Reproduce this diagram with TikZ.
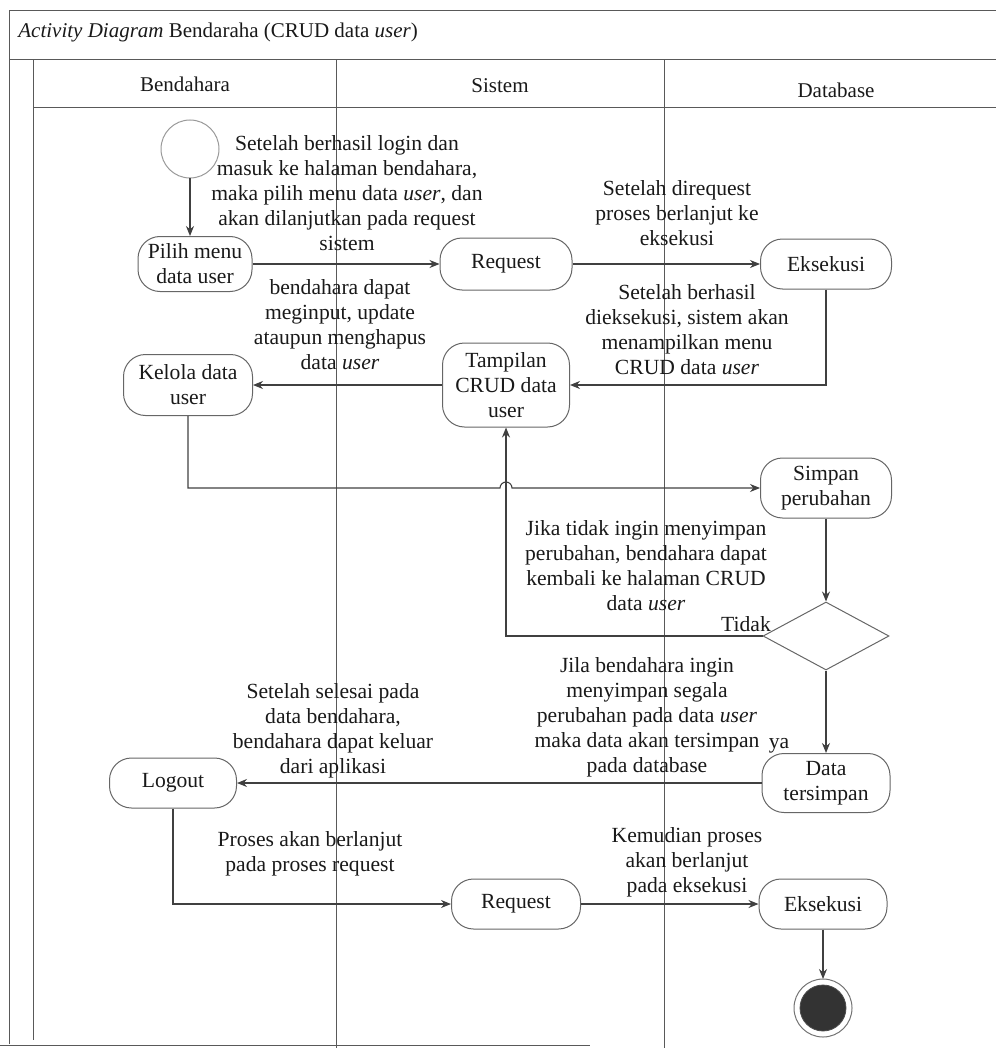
\documentclass[tikz,border=0pt]{standalone}
\usepackage{fontspec}
\setmainfont{Liberation Serif}
\usetikzlibrary{arrows.meta,shapes.geometric,calc}

\begin{document}
\begin{tikzpicture}[x=0.5pt,y=-0.5pt,
  frame/.style={draw=black!65, line width=0.5pt},
  act/.style={draw=black!60, line width=0.5pt, rounded corners=11pt, align=center,
    inner sep=0pt, text=black!90, font=\fontsize{10.8pt}{12.5pt}\selectfont},
  note/.style={align=center, inner sep=0pt, text=black!90,
    font=\fontsize{10.8pt}{12.5pt}\selectfont},
  hdr/.style={inner sep=0pt, text=black!90, font=\fontsize{10.5pt}{12pt}\selectfont},
  flow/.style={draw=black!75, line width=0.55pt, -{Stealth[length=5pt,width=4pt]}},
]
\useasboundingbox (0,0) rectangle (996,1048);

% outer frame, title row and swimlanes
\draw[frame] (9,1044) -- (9,11) -- (996,11);
\draw[frame] (9,60) -- (996,60);
\draw[frame] (33,108) -- (996,108);
\draw[frame] (33,60) -- (33,1040);
\draw[frame] (336,60) -- (336,1048);
\draw[frame] (664,60) -- (664,1048);
\draw[frame] (0,1045) -- (590,1045);

\node[hdr, anchor=west] (title) at (18,32) {\textit{Activity Diagram} Bendaraha (CRUD data \textit{user})};
\node[hdr] (laneA) at (185,84) {Bendahara};
\node[hdr] (laneB) at (500,86) {Sistem};
\node[hdr] (laneC) at (836,90) {Database};

% activities
\node[circle, draw=black!40, line width=0.5pt, minimum size=29pt, inner sep=0pt] (start) at (190,149) {};
\node[act, minimum width=57pt, minimum height=27.5pt] (pilih) at (195,264) {Pilih menu\\data user};
\node[act, minimum width=66pt, minimum height=26pt] (req1) at (506,264) {Request};
\node[act, minimum width=65.5pt, minimum height=25pt] (eks1) at (826,264) {Eksekusi};
\node[act, minimum width=63.5pt, minimum height=42pt] (tampil) at (506,385) {Tampilan\\CRUD data\\user};
\node[act, minimum width=64.5pt, minimum height=30.5pt] (kelola) at (188,385) {Kelola data\\user};
\node[act, minimum width=65.5pt, minimum height=30pt] (simpan) at (826,488) {Simpan\\perubahan};
\node[diamond, draw=black!60, line width=0.5pt, minimum width=63pt, minimum height=34pt, inner sep=0pt] (cek) at (826,636) {};
\node[act, minimum width=64pt, minimum height=29.5pt] (data) at (826,783) {Data\\tersimpan};
\node[act, minimum width=63.5pt, minimum height=25pt] (logout) at (173,783) {Logout};
\node[act, minimum width=64.5pt, minimum height=25pt] (req2) at (516,904) {Request};
\node[act, minimum width=64pt, minimum height=25pt] (eks2) at (823,904) {Eksekusi};
\node[circle, fill=black!80, draw=black!70, minimum size=23pt, inner sep=0pt] (final) at (823,1008) {};
\draw[black!55, line width=0.5pt] (final.center) circle[radius=29];

% annotations
\node[note] (t1) at (347,193) {Setelah berhasil login dan\\masuk ke halaman bendahara,\\maka pilih menu data \textit{user}, dan\\akan dilanjutkan pada request\\sistem};
\node[note] (t2) at (677,213) {Setelah direquest\\proses berlanjut ke\\eksekusi};
\node[note] (t3) at (340,325) {bendahara dapat\\meginput, update\\ataupun menghapus\\data \textit{user}};
\node[note] (t4) at (687,330) {Setelah berhasil\\dieksekusi, sistem akan\\menampilkan menu\\CRUD data \textit{user}};
\node[note] (t5) at (646,566) {Jika tidak ingin menyimpan\\perubahan, bendahara dapat\\kembali ke halaman CRUD\\data \textit{user}};
\node[note] (tidak) at (746,624) {Tidak};
\node[note] (t6) at (647,717) {Jila bendahara ingin\\menyimpan segala\\perubahan pada data \textit{user}\\maka data akan tersimpan\\pada database};
\node[note] (ya) at (779,746) {ya};
\node[note] (t7) at (333,731) {Setelah selesai pada\\data bendahara,\\bendahara dapat keluar\\dari aplikasi};
\node[note] (t8) at (310,854) {Proses akan berlanjut\\pada proses request};
\node[note] (t9) at (687,862) {Kemudian proses\\akan berlanjut\\pada eksekusi};

% control flow
\draw[flow] (start.south) -- (start.south |- pilih.north);
\draw[flow] (pilih.east) -- (req1.west);
\draw[flow] (req1.east) -- (eks1.west);
\draw[flow] (eks1.south) |- (tampil.east);
\draw[flow] (tampil.west) -- (kelola.east);
\draw[flow] (kelola.south) |- ($(tampil.south |- simpan.west)+(-6,0)$)
  arc[start angle=180, end angle=360, radius=6] -- (simpan.west);
\draw[flow] (simpan.south) -- (cek.north);
\draw[flow] (cek.west) -| (tampil.south);
\draw[flow] (cek.south) -- (data.north);
\draw[flow] (data.west) -- (logout.east);
\draw[flow] (logout.south) |- (req2.west);
\draw[flow] (req2.east) -- (eks2.west);
\draw[flow] (eks2.south) -- (final.north |- 0,979);
\end{tikzpicture}
\end{document}
